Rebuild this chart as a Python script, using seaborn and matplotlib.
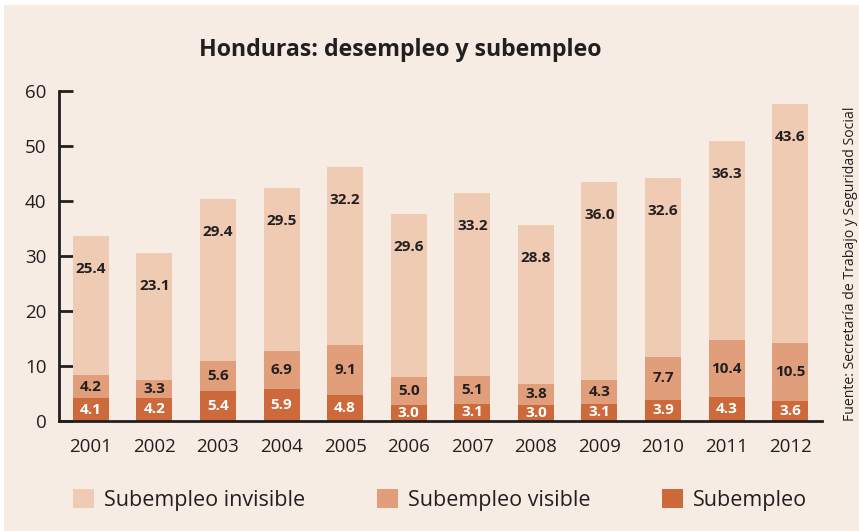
import matplotlib
matplotlib.use("Agg")
import matplotlib.pyplot as plt
from matplotlib.patches import Patch, Rectangle
from matplotlib.ticker import FixedLocator
import numpy as np
import pandas as pd
import seaborn as sns

# data
years = ["2001", "2002", "2003", "2004", "2005", "2006",
         "2007", "2008", "2009", "2010", "2011", "2012"]
subempleo = [4.1, 4.2, 5.4, 5.9, 4.8, 3.0, 3.1, 3.0, 3.1, 3.9, 4.3, 3.6]
visible = [4.2, 3.3, 5.6, 6.9, 9.1, 5.0, 5.1, 3.8, 4.3, 7.7, 10.4, 10.5]
invisible = [25.4, 23.1, 29.4, 29.5, 32.2, 29.6, 33.2, 28.8, 36.0, 32.6, 36.3, 43.6]

series_names = ["Subempleo invisible", "Subempleo visible", "Subempleo"]
title = "Honduras: desempleo y subempleo"
source = "Fuente: Secretaría de Trabajo y Seguridad Social"

BG = "#f7ece3"
C_INV = "#efcbb4"
C_VIS = "#e09e7b"
C_SUB = "#cc6a3b"
INK = "#231f20"

df = pd.DataFrame({"year": years, "sub": subempleo, "vis": visible, "inv": invisible})
df["low"] = df["sub"]
df["mid"] = df["sub"] + df["vis"]
df["top"] = df["mid"] + df["inv"]

sns.set_theme(style="white")
plt.rcParams["font.family"] = ["Open Sans", "DejaVu Sans"]

fig = plt.figure(figsize=(8.59, 5.31), dpi=100, facecolor="white")
fig.patches.append(Rectangle((4 / 859, 0), 1, 1 - 5 / 531, transform=fig.transFigure,
                             facecolor=BG, edgecolor="none", zorder=-10))
ax = fig.add_axes([59 / 859, 1 - 421 / 531, (822 - 59) / 859, (421 - 91) / 531])
ax.set_facecolor(BG)

# stacked bars: draw cumulative totals, tallest first
W = 0.567
for col, c in (("top", C_INV), ("mid", C_VIS), ("low", C_SUB)):
    sns.barplot(data=df, x="year", y=col, color=c, width=W, saturation=1,
                linewidth=0, edgecolor="none", ax=ax)

for i, r in df.iterrows():
    ax.text(i, r["low"] / 2, f"{r['sub']:.1f}", ha="center", va="center",
            color="white", fontsize=11, fontweight="bold")
    ax.text(i, (r["low"] + r["mid"]) / 2, f"{r['vis']:.1f}", ha="center", va="center",
            color=INK, fontsize=11, fontweight="bold")
    ax.text(i, r["top"] - 6, f"{r['inv']:.1f}", ha="center", va="center",
            color=INK, fontsize=11, fontweight="bold")

ax.set_xlim(-0.5, 11.5)
ax.set_ylim(0, 60)
ax.set_yticks(range(0, 61, 10))
ax.set_xlabel("")
ax.set_ylabel("")
for s in ["top", "right"]:
    ax.spines[s].set_visible(False)
for s in ["left", "bottom"]:
    ax.spines[s].set_linewidth(2)
    ax.spines[s].set_color(INK)

ax.xaxis.set_minor_locator(FixedLocator(np.arange(0.5, 12, 1)))
ax.tick_params(axis="x", which="major", length=0, pad=12, labelsize=13.5, labelcolor=INK)
ax.tick_params(axis="x", which="minor", direction="in", length=5, width=2, color=INK)
ax.tick_params(axis="y", direction="in", length=10, width=2, color=INK,
               pad=9, labelsize=13.5, labelcolor=INK, left=True)

fig.text(400 / 859, 1 - 50 / 531, title, ha="center", va="center",
         fontsize=16.7, fontweight="bold", color=INK)
fig.text(851 / 859, 1 - 421 / 531, source, rotation=90, ha="center", va="bottom",
         fontsize=10.1, color=INK)

handles = [Patch(facecolor=c, edgecolor="none") for c in (C_INV, C_VIS, C_SUB)]
fig.legend(handles, series_names, loc="center", bbox_to_anchor=(440 / 859, 1 - 500 / 531),
           ncol=3, frameon=False, fontsize=15.5, handlelength=1.0, handleheight=1.0,
           handletextpad=0.46, columnspacing=3.3, labelcolor=INK)

fig.savefig("out.png", dpi=100, facecolor="white")
